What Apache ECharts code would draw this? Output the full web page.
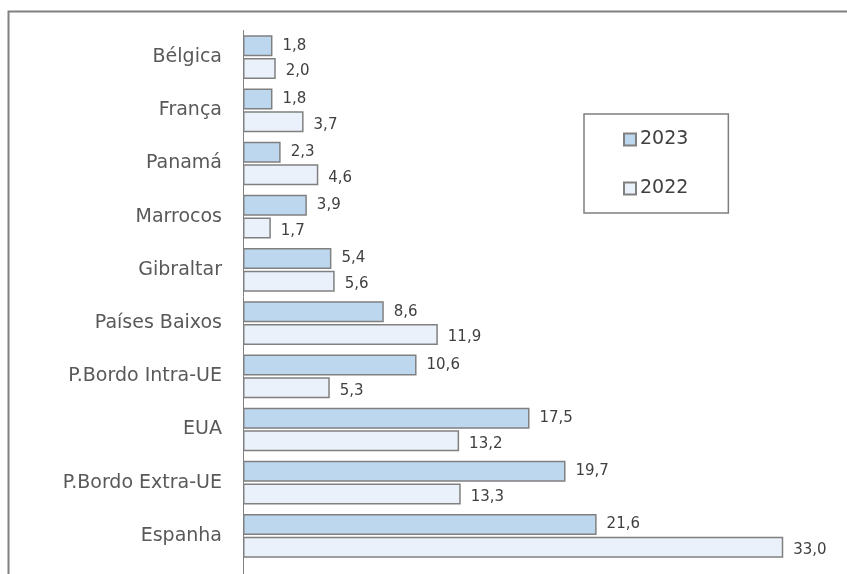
<!DOCTYPE html>
<html>
<head>
<meta charset="utf-8">
<script src="https://cdn.jsdelivr.net/npm/echarts@6/dist/echarts.min.js"></script>
<style>
  html, body { margin: 0; padding: 0; background: #ffffff; }
  #chart { width: 847px; height: 574px; }
</style>
</head>
<body>
<div id="chart"></div>
<script>
const categories = ['Bélgica', 'França', 'Panamá', 'Marrocos', 'Gibraltar', 'Países Baixos', 'P.Bordo Intra-UE', 'EUA', 'P.Bordo Extra-UE', 'Espanha']
const values2023 = [1.8, 1.8, 2.3, 3.9, 5.4, 8.6, 10.6, 17.5, 19.7, 21.6]
const values2022 = [2.0, 3.7, 4.6, 1.7, 5.6, 11.9, 5.3, 13.2, 13.3, 33.0]
const seriesNames = ['2023', '2022']

const font = 'DejaVu Sans'
const fmt = p => p.value.toFixed(1).replace('.', ',')

const chart = echarts.init(document.getElementById('chart'))

const makeSeries = (name, data, color, offsetY) => ({
  name: name,
  type: 'bar',
  data: data,
  barWidth: 21,
  barGap: '8%',
  itemStyle: {
    color: color,
    borderColor: '#808080',
    borderWidth: 1.5
  },
  label: {
    show: true,
    position: 'right',
    distance: 10,
    offset: [0, offsetY],
    formatter: fmt,
    color: '#404040',
    fontFamily: font,
    fontSize: 15
  },
  emphasis: { disabled: true }
})

const option = {
  backgroundColor: '#ffffff',
  animation: false,
  grid: {
    left: 243,
    top: 30.5,
    width: 573,
    height: 532
  },
  legend: {
    data: seriesNames,
    orient: 'vertical',
    left: 584,
    top: 114,
    padding: [16, 40, 15, 39],
    itemGap: 30,
    itemWidth: 12,
    itemHeight: 12,
    icon: 'rect',
    borderColor: '#7f7f7f',
    borderWidth: 1.5,
    textStyle: {
      color: '#404040',
      fontFamily: font,
      fontSize: 19,
      padding: [0, 0, 0, -1]
    }
  },
  xAxis: {
    type: 'value',
    min: 0,
    max: 35,
    show: false
  },
  yAxis: {
    type: 'category',
    data: categories,
    inverse: true,
    axisLine: { lineStyle: { color: '#808080', width: 1 } },
    axisTick: { show: false },
    axisLabel: {
      color: '#595959',
      fontFamily: font,
      fontSize: 19,
      margin: 21
    }
  },
  series: [
    makeSeries(seriesNames[0], values2023, '#bdd7ee', 0),
    makeSeries(seriesNames[1], values2022, '#eaf1fa', 3)
  ],
  graphic: [
    {
      type: 'rect',
      shape: { x: 8.5, y: 11.5, width: 900, height: 700 },
      style: { fill: null, stroke: '#808080', lineWidth: 2 },
      silent: true,
      z: -1
    },
    {
      type: 'line',
      shape: { x1: 243.5, y1: 562, x2: 243.5, y2: 574 },
      style: { stroke: '#808080', lineWidth: 1 },
      silent: true
    }
  ]
}

chart.setOption(option)
</script>
</body>
</html>
